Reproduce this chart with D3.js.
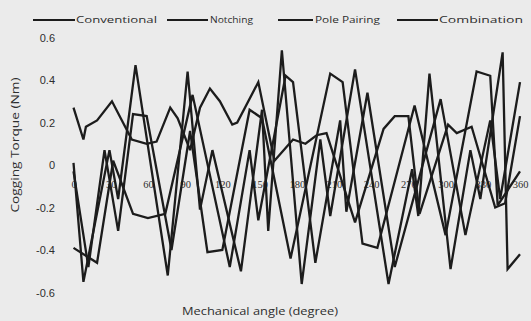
<!DOCTYPE html>
<html>
<head>
<meta charset="utf-8">
<script src="https://cdn.jsdelivr.net/npm/d3@7"></script>
<style>
  html, body { margin: 0; padding: 0; background: #ebebeb; }
  svg { display: block; }
</style>
</head>
<body>
<svg id="chart" width="531" height="321"></svg>
<script>
// Cogging torque (Nm) against mechanical angle (degree), as [angle, torque] pairs
const conventional = [
  [0, 0.01], [8, -0.55], [29, 0.07], [36, -0.16], [50, 0.47], [76, -0.52],
  [92, 0.44], [102, -0.21], [112, 0.07], [135, -0.50], [152, 0.26], [157, -0.31],
  [168, 0.54], [184, -0.56], [199, 0.12], [207, -0.24], [227, 0.45], [254, -0.56],
  [273, -0.02], [278, -0.24], [287, 0.43], [304, -0.49], [320, 0.07], [328, -0.16],
  [346, 0.53], [350, -0.49], [360, -0.42]
];
const notching = [
  [0, -0.03], [12, -0.48], [25, 0.07], [36, -0.31], [48, 0.24], [59, 0.23],
  [79, -0.40], [94, 0.16], [108, -0.41], [120, -0.40], [142, 0.26], [152, 0.22],
  [175, -0.44], [207, 0.43], [217, 0.39], [233, -0.37], [245, -0.39], [275, 0.28],
  [300, -0.33], [325, 0.44], [336, 0.42], [342, -0.19], [360, -0.03]
];
const polePairing = [
  [0, -0.39], [19, -0.46], [32, 0.02], [48, -0.23], [60, -0.25], [74, -0.23],
  [96, 0.33], [126, -0.48], [142, 0.07], [149, -0.26], [171, 0.42], [177, 0.39],
  [195, -0.46], [215, 0.21], [220, -0.22], [237, 0.34], [259, -0.48], [296, 0.31],
  [316, -0.33], [336, 0.21], [344, -0.16], [360, 0.39]
];
const combination = [
  [0, 0.27], [8, 0.12], [10, 0.18], [19, 0.21], [31, 0.30], [47, 0.12],
  [59, 0.10], [67, 0.11], [78, 0.27], [84, 0.22], [94, 0.07], [102, 0.27],
  [110, 0.36], [118, 0.30], [128, 0.19], [132, 0.20], [149, 0.39], [162, 0.02],
  [177, 0.12], [187, 0.10], [196, 0.14], [204, 0.15], [227, -0.27], [250, 0.17],
  [259, 0.23], [270, 0.23], [279, -0.23], [302, 0.19], [309, 0.15], [321, 0.18],
  [340, -0.20], [348, -0.18], [360, 0.23]
];

const seriesNames = ["Conventional", "Notching", "Pole Pairing", "Combination"];
const seriesData = [conventional, notching, polePairing, combination];

const angleTicks = [0, 30, 60, 90, 120, 150, 180, 210, 240, 270, 300, 330, 360];
const torqueTicks = [-0.6, -0.4, -0.2, 0, 0.2, 0.4, 0.6];

const svg = d3.select("#chart");
const ink = "#1c1c1c";
const textInk = "#2e2e2e";

const x = d3.scaleLinear().domain([0, 360]).range([73.5, 520]);
const y = d3.scaleLinear().domain([-0.6, 0.6]).range([292.5, 37.5]);

// Torque axis: labels only, no axis line or tick marks
const yAxis = d3.axisLeft(y)
  .tickValues(torqueTicks)
  .tickSize(0)
  .tickPadding(0)
  .tickFormat(d => d === 0 ? "0" : d.toFixed(1));
const gy = svg.append("g").attr("transform", "translate(55,0)").call(yAxis);
gy.select(".domain").remove();
gy.selectAll("text")
  .attr("fill", textInk)
  .style("font-family", "'Liberation Sans', Arial, sans-serif")
  .style("font-size", "11px");

// Angle axis labels sit along the zero line
const xAxis = d3.axisBottom(x)
  .tickValues(angleTicks)
  .tickSize(0)
  .tickPadding(16)
  .tickFormat(d3.format("d"));
const gx = svg.append("g").attr("transform", `translate(0,${y(0)})`).call(xAxis);
gx.select(".domain").remove();
gx.selectAll("text")
  .attr("fill", textInk)
  .style("font-family", "'Liberation Serif', 'Times New Roman', serif")
  .style("font-size", "10.5px");

// Series lines
const line = d3.line()
  .x(d => x(d[0]))
  .y(d => y(d[1]));

svg.append("g")
  .selectAll("path")
  .data(seriesData)
  .join("path")
  .attr("d", line)
  .attr("fill", "none")
  .attr("stroke", ink)
  .attr("stroke-width", 2.3)
  .attr("stroke-linejoin", "miter")
  .attr("stroke-miterlimit", 3);

// Legend across the top
const legendItems = [
  { name: seriesNames[0], x0: 33, x1: 75, tx: 76, tw: 81 },
  { name: seriesNames[1], x0: 167, x1: 208, tx: 210, tw: 43 },
  { name: seriesNames[2], x0: 278, x1: 313, tx: 315, tw: 65 },
  { name: seriesNames[3], x0: 397, x1: 438, tx: 439, tw: 84 }
];
const legend = svg.append("g").attr("transform", "translate(0,20)");
const li = legend.selectAll("g").data(legendItems).join("g");
li.append("line")
  .attr("x1", d => d.x0).attr("x2", d => d.x1)
  .attr("y1", 0).attr("y2", 0)
  .attr("stroke", ink).attr("stroke-width", 2.2);
li.append("text")
  .attr("x", d => d.tx).attr("y", 0)
  .attr("dy", "0.35em")
  .attr("textLength", d => d.tw)
  .attr("lengthAdjust", "spacingAndGlyphs")
  .attr("fill", textInk)
  .style("font-family", "'Open Sans', sans-serif")
  .style("font-size", "9.5px")
  .text(d => d.name);

// Axis titles
svg.append("text")
  .attr("transform", "translate(19,145) rotate(-90)")
  .attr("text-anchor", "middle")
  .attr("textLength", 135)
  .attr("lengthAdjust", "spacingAndGlyphs")
  .attr("fill", textInk)
  .style("font-family", "'Open Sans', sans-serif")
  .style("font-size", "10px")
  .text("Cogging Torque (Nm)");

svg.append("text")
  .attr("x", 260).attr("y", 315)
  .attr("text-anchor", "middle")
  .attr("textLength", 156)
  .attr("lengthAdjust", "spacingAndGlyphs")
  .attr("fill", textInk)
  .style("font-family", "'Open Sans', sans-serif")
  .style("font-size", "10px")
  .text("Mechanical angle (degree)");
</script>
</body>
</html>
